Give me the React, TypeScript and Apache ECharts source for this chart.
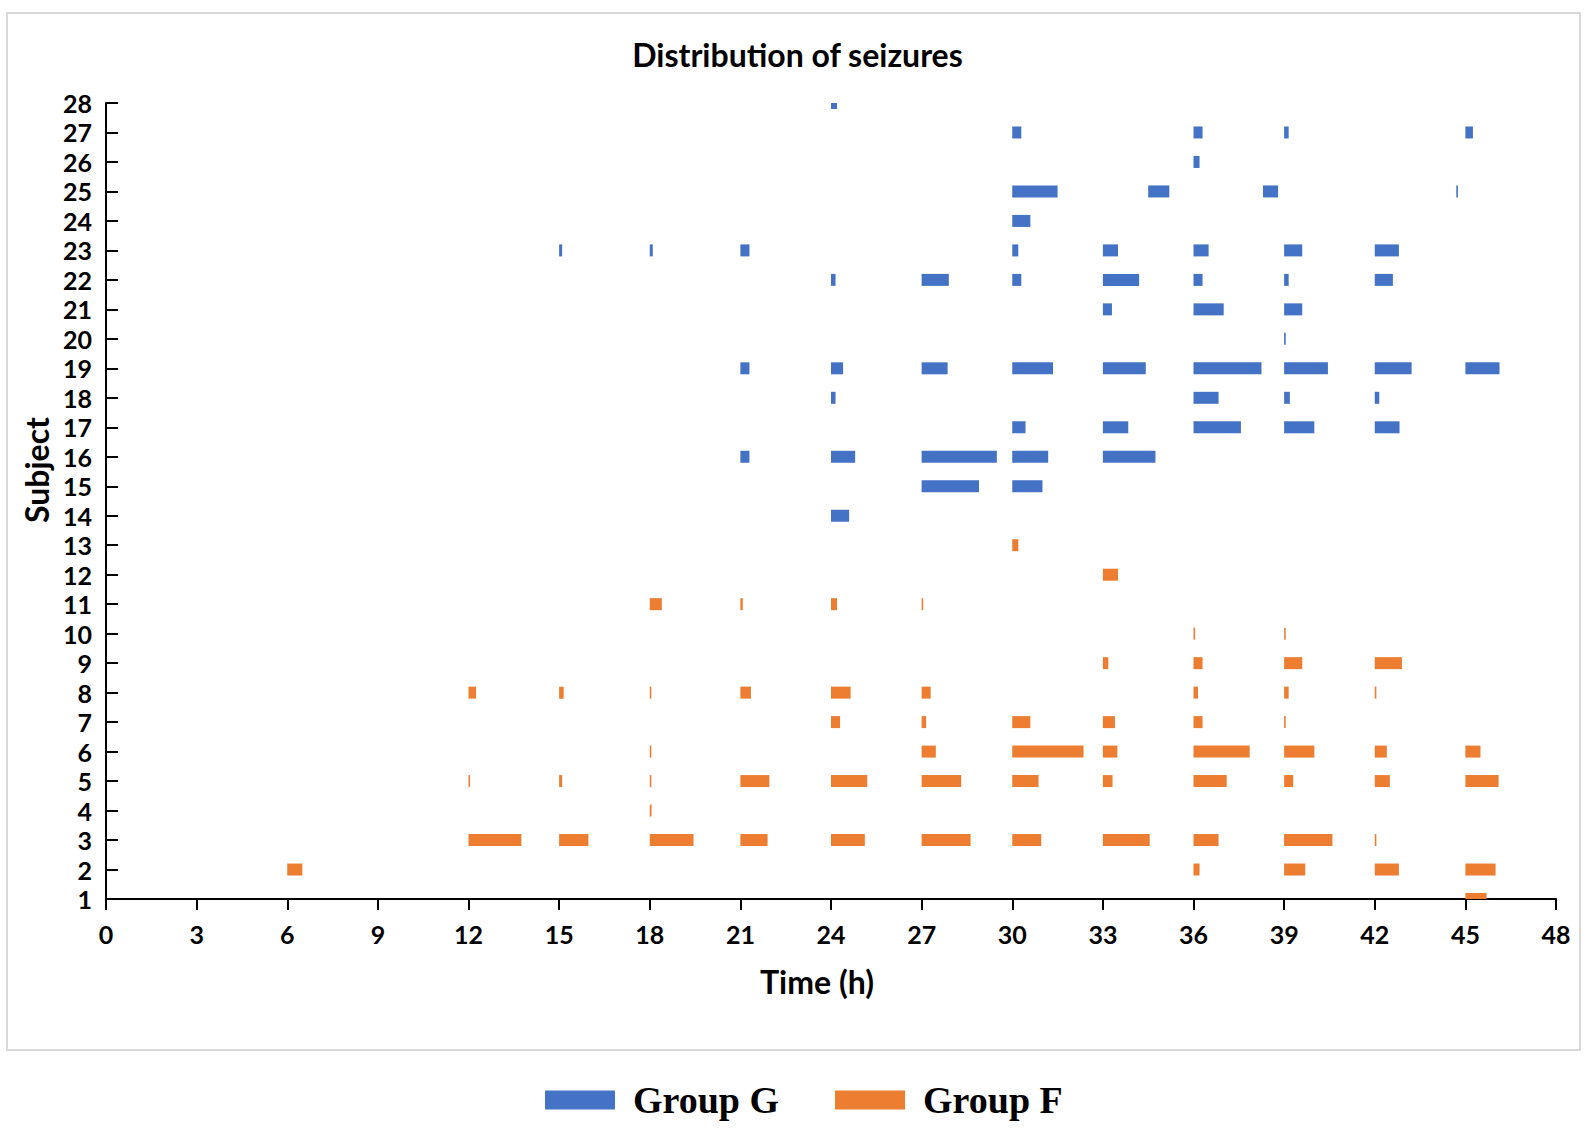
import React, { useEffect, useRef } from "react";
import * as echarts from "echarts";

// [subject, start hour, end hour]
const groupGSeizures: [number, number, number][] = [
  [28, 24.0, 24.2],
  [27, 30.0, 30.3], [27, 36.0, 36.3], [27, 39.0, 39.15], [27, 45.0, 45.25],
  [26, 36.0, 36.2],
  [25, 30.0, 31.5], [25, 34.5, 35.2], [25, 38.3, 38.8], [25, 44.7, 44.74],
  [24, 30.0, 30.6],
  [23, 15.0, 15.1], [23, 18.0, 18.1], [23, 21.0, 21.3], [23, 30.0, 30.2], [23, 33.0, 33.5],
  [23, 36.0, 36.5], [23, 39.0, 39.6], [23, 42.0, 42.8],
  [22, 24.0, 24.15], [22, 27.0, 27.9], [22, 30.0, 30.3], [22, 33.0, 34.2], [22, 36.0, 36.3],
  [22, 39.0, 39.15], [22, 42.0, 42.6],
  [21, 33.0, 33.3], [21, 36.0, 37.0], [21, 39.0, 39.6],
  [20, 39.0, 39.05],
  [19, 21.0, 21.3], [19, 24.0, 24.4], [19, 27.0, 27.86], [19, 30.0, 31.35], [19, 33.0, 34.42],
  [19, 36.0, 38.25], [19, 39.0, 40.45], [19, 42.0, 43.22], [19, 45.0, 46.13],
  [18, 24.0, 24.15], [18, 36.0, 36.83], [18, 39.0, 39.19], [18, 42.0, 42.15],
  [17, 30.0, 30.44], [17, 33.0, 33.84], [17, 36.0, 37.57], [17, 39.0, 40.0], [17, 42.0, 42.82],
  [16, 21.0, 21.3], [16, 24.0, 24.8], [16, 27.0, 29.49], [16, 30.0, 31.19], [16, 33.0, 34.74],
  [15, 27.0, 28.9], [15, 30.0, 31.0],
  [14, 24.0, 24.6],
];

const groupFSeizures: [number, number, number][] = [
  [13, 30.0, 30.2],
  [12, 33.0, 33.5],
  [11, 18.0, 18.4], [11, 21.0, 21.08], [11, 24.0, 24.2], [11, 27.0, 27.04],
  [10, 36.0, 36.05], [10, 39.0, 39.05],
  [9, 33.0, 33.18], [9, 36.0, 36.3], [9, 39.0, 39.6], [9, 42.0, 42.9],
  [8, 12.0, 12.25], [8, 15.0, 15.15], [8, 18.0, 18.03], [8, 21.0, 21.35], [8, 24.0, 24.65],
  [8, 27.0, 27.3], [8, 36.0, 36.15], [8, 39.0, 39.15], [8, 42.0, 42.05],
  [7, 24.0, 24.3], [7, 27.0, 27.15], [7, 30.0, 30.6], [7, 33.0, 33.4], [7, 36.0, 36.3], [7, 39.0, 39.05],
  [6, 18.0, 18.03], [6, 27.0, 27.47], [6, 30.0, 32.36], [6, 33.0, 33.48], [6, 36.0, 37.86],
  [6, 39.0, 40.0], [6, 42.0, 42.4], [6, 45.0, 45.5],
  [5, 12.0, 12.03], [5, 15.0, 15.1], [5, 18.0, 18.03], [5, 21.0, 21.96], [5, 24.0, 25.2],
  [5, 27.0, 28.31], [5, 30.0, 30.87], [5, 33.0, 33.32], [5, 36.0, 37.1], [5, 39.0, 39.3],
  [5, 42.0, 42.5], [5, 45.0, 46.1],
  [4, 18.0, 18.06],
  [3, 12.0, 13.75], [3, 15.0, 15.97], [3, 18.0, 19.45], [3, 21.0, 21.9], [3, 24.0, 25.12],
  [3, 27.0, 28.62], [3, 30.0, 30.96], [3, 33.0, 34.55], [3, 36.0, 36.83], [3, 39.0, 40.6],
  [3, 42.0, 42.05],
  [2, 6.0, 6.5], [2, 36.0, 36.2], [2, 39.0, 39.7], [2, 42.0, 42.8], [2, 45.0, 46.0],
  [1, 45.0, 45.7],
];

const seriesNames = ["Group G", "Group F"];
const seriesColors = ["#4472C4", "#ED7D31"];

const TICK_FONT = "Lato";

function makeSeries(name: string, color: string, data: [number, number, number][]) {
  return {
    type: "custom",
    name,
    clip: true,
    itemStyle: { color },
    encode: { x: [1, 2], y: 0 },
    data,
    renderItem: (params: any, api: any) => {
      const s = api.value(0);
      const a = api.value(1);
      const b = api.value(2);
      const p0 = api.coord([a, s]);
      const p1 = api.coord([b, s]);
      const h = 12;
      const w = Math.max(p1[0] - p0[0], 1.6);
      return {
        type: "rect",
        shape: { x: p0[0], y: p0[1] - h / 2, width: w, height: h },
        style: { fill: api.visual("color") },
      };
    },
  };
}

export default function App() {
  const ref = useRef<HTMLDivElement>(null);
  useEffect(() => {
    if (!ref.current) return;
    const chart = echarts.init(ref.current, undefined, { renderer: "svg" });
    chart.setOption({
      animation: false,
      backgroundColor: "#ffffff",
      title: {
        text: "Distribution of seizures",
        left: "center",
        top: 37,
        padding: 0,
        textStyle: {
          fontFamily: TICK_FONT,
          fontWeight: "bold",
          fontSize: 32,
          lineHeight: 34,
          color: "#000",
        },
      },
      legend: {
        data: [
          { name: seriesNames[0], icon: "rect" },
          { name: seriesNames[1], icon: "rect" },
        ],
        left: 540,
        top: 1076,
        itemWidth: 70,
        itemHeight: 19,
        itemGap: 56,
        selectedMode: false,
        textStyle: {
          fontFamily: "Liberation Serif",
          fontWeight: "bold",
          fontSize: 38,
          color: "#000",
          padding: [0, 0, 0, 13],
        },
      },
      graphic: [
        {
          type: "rect",
          shape: { x: 7, y: 13, width: 1573, height: 1037 },
          style: { fill: "none", stroke: "#d9d9d9", lineWidth: 2 },
          silent: true,
        },
      ],
      grid: { left: 106, right: 39, top: 103, bottom: 234, containLabel: false },
      xAxis: {
        type: "value",
        min: 0,
        max: 48,
        interval: 3,
        name: "Time (h)",
        nameLocation: "middle",
        nameGap: 65,
        nameTextStyle: {
          fontFamily: TICK_FONT,
          fontWeight: "bold",
          fontSize: 32,
          lineHeight: 34,
          color: "#000",
          padding: [0, 28, 0, 0],
        },
        axisLine: { show: true, onZero: false, lineStyle: { color: "#000", width: 2 } },
        axisTick: { show: true, length: 11, lineStyle: { color: "#000", width: 2 } },
        axisLabel: {
          fontFamily: TICK_FONT,
          fontWeight: "bold",
          fontSize: 25,
          color: "#000",
          margin: 22,
        },
        splitLine: { show: false },
      },
      yAxis: {
        type: "value",
        min: 1,
        max: 28,
        interval: 1,
        name: "Subject",
        nameLocation: "middle",
        nameGap: 52,
        nameRotate: 90,
        nameTextStyle: {
          fontFamily: TICK_FONT,
          fontWeight: "bold",
          fontSize: 32,
          color: "#000",
          padding: [0, 0, 0, 62],
        },
        axisLine: { show: true, onZero: false, lineStyle: { color: "#000", width: 2 } },
        axisTick: { show: true, inside: true, length: 12, lineStyle: { color: "#000", width: 2 } },
        axisLabel: {
          fontFamily: TICK_FONT,
          fontWeight: "bold",
          fontSize: 25,
          color: "#000",
          margin: 14,
        },
        splitLine: { show: false },
      },
      series: [
        makeSeries(seriesNames[0], seriesColors[0], groupGSeizures),
        makeSeries(seriesNames[1], seriesColors[1], groupFSeizures),
      ],
    });
    return () => chart.dispose();
  }, []);
  return (
    <div
      ref={ref}
      style={{ position: "absolute", left: 0, top: 0, width: 1595, height: 1133 }}
    />
  );
}
